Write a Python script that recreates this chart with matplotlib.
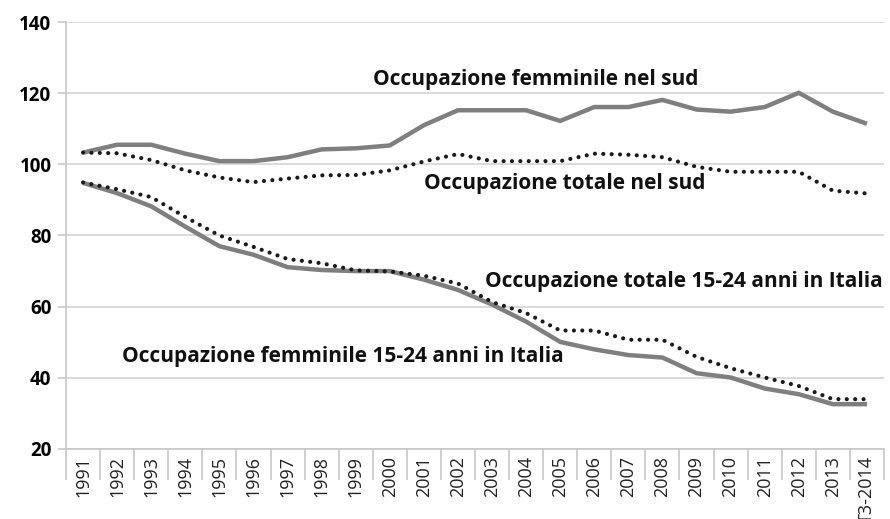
import matplotlib
matplotlib.use("Agg")
import matplotlib.pyplot as plt
import numpy as np

years = ["1991", "1992", "1993", "1994", "1995", "1996", "1997", "1998", "1999", "2000",
         "2001", "2002", "2003", "2004", "2005", "2006", "2007", "2008", "2009", "2010",
         "2011", "2012", "2013", "T3-2014"]
femminile_sud = [103.3, 105.5, 105.5, 103.0, 100.9, 100.9, 102.0, 104.2, 104.5, 105.3,
                 111.0, 115.2, 115.2, 115.2, 112.2, 116.1, 116.1, 118.1, 115.4, 114.8,
                 116.1, 120.1, 114.8, 111.4]
totale_sud = [103.3, 103.1, 101.2, 98.3, 96.3, 95.0, 96.0, 96.9, 97.0, 98.3,
              100.8, 102.9, 100.9, 100.9, 100.9, 103.0, 102.7, 102.0, 99.3, 97.9,
              97.9, 97.9, 92.6, 91.8]
totale_italia = [94.9, 93.0, 90.8, 85.2, 80.0, 76.8, 73.4, 72.2, 70.2, 69.9,
                 68.7, 66.5, 61.3, 58.2, 53.3, 53.3, 50.7, 50.7, 45.9, 42.7,
                 40.1, 37.7, 34.0, 34.0]
femminile_italia = [94.8, 91.9, 88.2, 82.5, 77.0, 74.6, 71.1, 70.3, 70.0, 70.0,
                    67.6, 64.7, 60.6, 55.8, 50.1, 48.0, 46.4, 45.7, 41.3, 40.1,
                    37.0, 35.4, 32.6, 32.6]
labels = ["Occupazione femminile nel sud", "Occupazione totale nel sud",
          "Occupazione totale 15-24 anni in Italia", "Occupazione femminile 15-24 anni in Italia"]

plt.rcParams['font.family'] = ['Open Sans', 'DejaVu Sans']

fig = plt.figure(figsize=(8.9, 5.19), dpi=100)
ax = fig.add_axes([66/890, 1-449/519, (884-66)/890, (449-22)/519])

x = np.arange(len(years))
gray = '#7f7f80'
ax.plot(x, femminile_sud, color=gray, lw=3.2, solid_capstyle='butt', solid_joinstyle='miter', zorder=3)
ax.plot(x, femminile_italia, color=gray, lw=3.2, solid_capstyle='butt', solid_joinstyle='miter', zorder=3)
ax.plot(x, totale_sud, color='#1a1a1a', lw=3.0, linestyle=(0, (0.01, 2.0)), dash_capstyle='round', zorder=4)
ax.plot(x, totale_italia, color='#1a1a1a', lw=3.0, linestyle=(0, (0.01, 2.0)), dash_capstyle='round', zorder=4)

ax.set_xlim(-0.5, len(years) - 0.5)
ax.set_ylim(20, 140)
ax.set_yticks([20, 40, 60, 80, 100, 120, 140])
ax.yaxis.grid(True, color='#d4d4d4', lw=1.2)
ax.set_axisbelow(True)
for s in ['top', 'right']:
    ax.spines[s].set_visible(False)
for s in ['left', 'bottom']:
    ax.spines[s].set_color('#c8c8c8')
    ax.spines[s].set_linewidth(1.2)
ax.tick_params(axis='y', length=6, color='#c8c8c8', width=1.2, labelsize=13.5, pad=4.5)
for t in ax.get_yticklabels():
    t.set_fontweight('bold')

ax.set_xticks(x)
ax.set_xticklabels(years, rotation=90, fontsize=13, color='#222222')
ax.tick_params(axis='x', which='major', length=0, pad=5)
ax.set_xticks(np.arange(-0.5, len(years) + 0.5, 1), minor=True)
ax.tick_params(axis='x', which='minor', length=22, color='#c8c8c8', width=1.2)

txt = dict(fontsize=15, fontweight='bold', color='#111111', va='center', zorder=5)
ax.text(8.5, 123.9, labels[0], ha='left', **txt)
ax.text(10.0, 94.7, labels[1], ha='left', **txt)
ax.text(23.45, 67.2, labels[2], ha='right', **txt)
ax.text(1.14, 46.1, labels[3], ha='left', **txt)

fig.savefig("out.png", dpi=100)
